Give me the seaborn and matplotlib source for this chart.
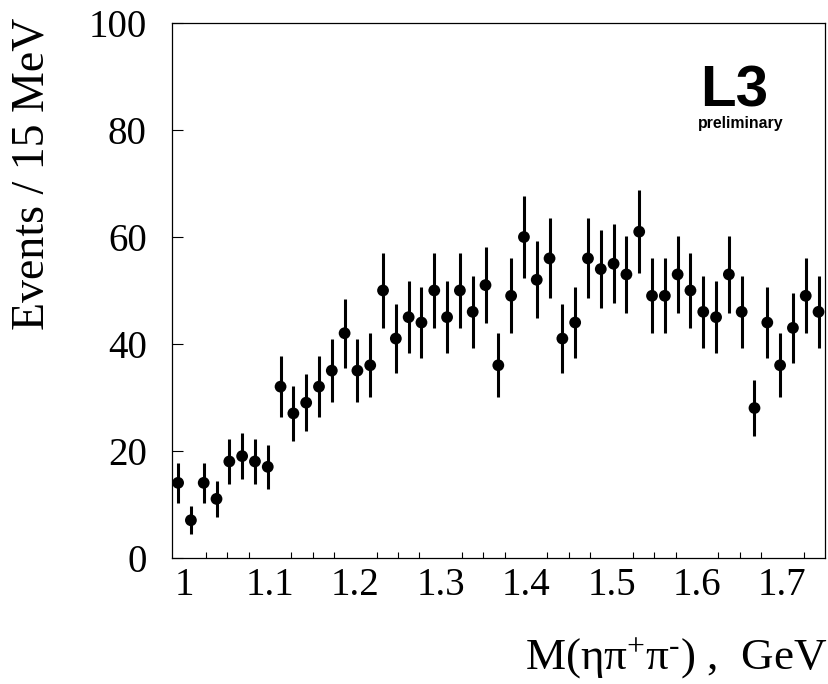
import numpy as np
import pandas as pd
import matplotlib
matplotlib.use("Agg")
import matplotlib.pyplot as plt
import seaborn as sns

# eta pi+ pi- mass spectrum, 15 MeV bins starting at 0.985 GeV
bin_start = 0.985
bin_width = 0.015
counts = [14, 7, 14, 11, 18, 19, 18, 17, 32, 27, 29, 32, 35, 42, 35, 36, 50,
          41, 45, 44, 50, 45, 50, 46, 51, 36, 49, 60, 52, 56, 41, 44, 56, 54,
          55, 53, 61, 49, 49, 53, 50, 46, 45, 53, 46, 28, 44, 36, 43, 49, 46]
x_ticks = [1.0, 1.1, 1.2, 1.3, 1.4, 1.5, 1.6, 1.7]
x_tick_labels = ["1", "1.1", "1.2", "1.3", "1.4", "1.5", "1.6", "1.7"]
y_ticks = [0, 20, 40, 60, 80, 100]

df = pd.DataFrame({"mass": bin_start + bin_width * (np.arange(len(counts)) + 0.5),
                   "events": counts})
df["err"] = np.sqrt(df["events"])  # Poisson errors

sns.set_style("white")
plt.rcParams["font.family"] = ["Liberation Serif", "DejaVu Serif"]
plt.rcParams["mathtext.fontset"] = "custom"
plt.rcParams["mathtext.rm"] = "Liberation Serif"
plt.rcParams["mathtext.it"] = "Liberation Serif"
plt.rcParams["text.color"] = "black"
plt.rcParams["axes.labelcolor"] = "black"
plt.rcParams["xtick.color"] = "black"
plt.rcParams["ytick.color"] = "black"

fig = plt.figure(figsize=(8.29, 6.84), dpi=100)
ax = fig.add_axes([0.2071, 0.1847, 0.788, 0.7813])

ax.errorbar(df["mass"], df["events"], yerr=df["err"], fmt="none",
            ecolor="black", elinewidth=2.2, capsize=0, zorder=2)
sns.scatterplot(data=df, x="mass", y="events", ax=ax, color="black",
                s=72, edgecolor="none", zorder=3)

ax.set_xlim(0.985, 1.75)
ax.set_ylim(0, 100)
ax.set_xticks(x_ticks)
ax.set_xticklabels(x_tick_labels)
ax.set_xticks(np.arange(1.0, 1.75, 0.025), minor=True)
ax.set_yticks(y_ticks)

ax.tick_params(axis="x", which="major", direction="in", length=8, width=0.8,
               labelsize=28, pad=7, top=False)
ax.tick_params(axis="x", which="minor", direction="in", length=4.5, width=0.8,
               top=False, bottom=True)
ax.tick_params(axis="y", direction="in", length=8, width=0.8, labelsize=28,
               pad=18, right=False, left=True)

for sp in ax.spines.values():
    sp.set_visible(True)
    sp.set_color("black")
    sp.set_linewidth(0.9)

ax.set_ylabel("Events / 15 MeV", fontsize=33, loc="top")
ax.yaxis.set_label_coords(-0.181, 1.01)
ax.set_xlabel(r"M(ηπ$^{+}$π$^{\text{-}}$) ,  GeV", fontsize=32.5, loc="right")
ax.xaxis.set_label_coords(1.003, -0.146)

ax.text(0.861, 0.845, "L3", transform=ax.transAxes, ha="center", va="baseline",
        fontsize=42, fontweight="bold", family=["Liberation Sans", "DejaVu Sans"])
ax.text(0.871, 0.8035, "preliminary", transform=ax.transAxes, ha="center",
        va="baseline", fontsize=11.4, fontweight="bold",
        family=["Liberation Sans", "DejaVu Sans"])

fig.savefig("out.png", dpi=100)
